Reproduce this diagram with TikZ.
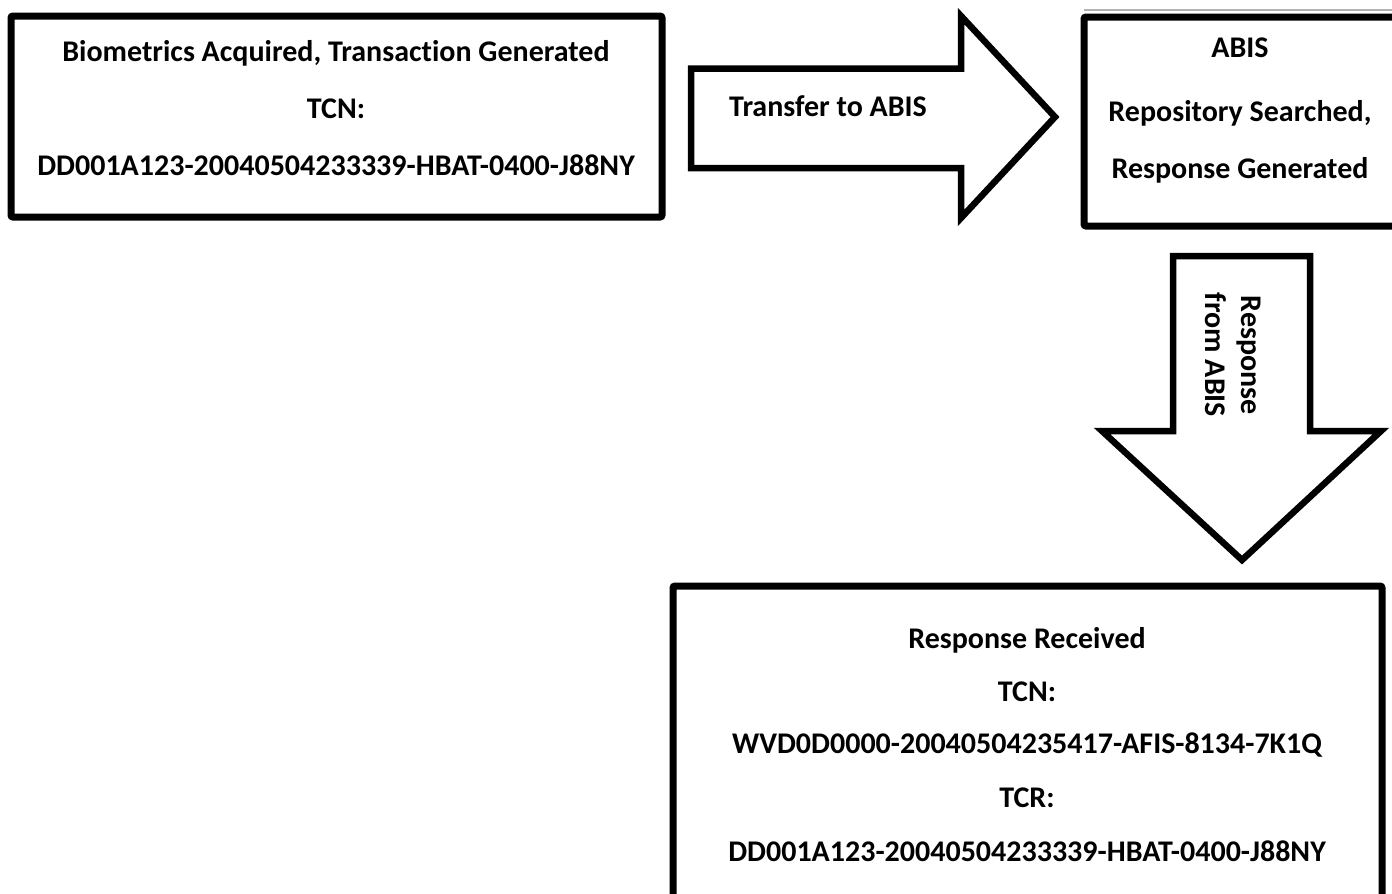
\documentclass[tikz,border=0pt]{standalone}
\usepackage{fontspec}
\setmainfont{Carlito}[Ligatures=NoCommon]
\begin{document}
\begin{tikzpicture}[x=1pt,y=-1pt,
  box/.style={draw=black, line width=7pt, rounded corners=2pt, fill=white, inner sep=0pt},
  lbl/.style={font=\fontsize{30}{36}\selectfont\bfseries, inner sep=0pt, anchor=center},
  blockarrow/.style={draw=black, line width=6.5pt, fill=white, line join=miter}]
\useasboundingbox (0,0) rectangle (1392,894);
\clip (0,0) rectangle (1392,894);
\fill[white] (0,0) rectangle (1392,894);

% boxes
\node[box, minimum width=651pt, minimum height=201pt] (b1) at (336.5,116.5) {};
\draw[gray!60, line width=1.5pt] (1084,10) -- (1392,10);
\node[box, minimum width=314pt, minimum height=209pt] (b2) at (1241,121.5) {};
\node[box, minimum width=709pt, minimum height=334pt] (b3) at (1027.5,753) {};

% block arrows
\draw[blockarrow] (691,68.5) -- (961,68.5) -- (961,16) -- (1055,117) -- (961,218) -- (961,168) -- (691,168) -- cycle;
\draw[blockarrow] (1173,256) -- (1310,256) -- (1310,431) -- (1381,431) -- (1242,560) -- (1102,431) -- (1173,431) -- cycle;

% texts box 1
\node[lbl] (t1a) at (336,53) {Biometrics Acquired, Transaction Generated};
\node[lbl] (t1b) at (336,109) {TCN:};
\node[lbl] (t1c) at (336,165) {DD001A123-20040504233339-HBAT-0400-J88NY};

% texts box 2
\node[lbl] (t2a) at (1240,48) {ABIS};
\node[lbl] (t2b) at (1240,113) {Repository Searched,};
\node[lbl] (t2c) at (1240,170) {Response Generated};

% arrow labels
\node[lbl] (ta) at (828,106) {Transfer to ABIS};
\node[lbl, rotate=-90, align=center] (tb) at (1233,355) {Response\\from ABIS};

% texts box 3
\node[lbl] (t3a) at (1027,640) {Response Received};
\node[lbl] (t3b) at (1027,692) {TCN:};
\node[lbl] (t3c) at (1027,745) {WVD0D0000-20040504235417-AFIS-8134-7K1Q};
\node[lbl] (t3d) at (1027,798) {TCR:};
\node[lbl] (t3e) at (1027,851) {DD001A123-20040504233339-HBAT-0400-J88NY};
\end{tikzpicture}
\end{document}
